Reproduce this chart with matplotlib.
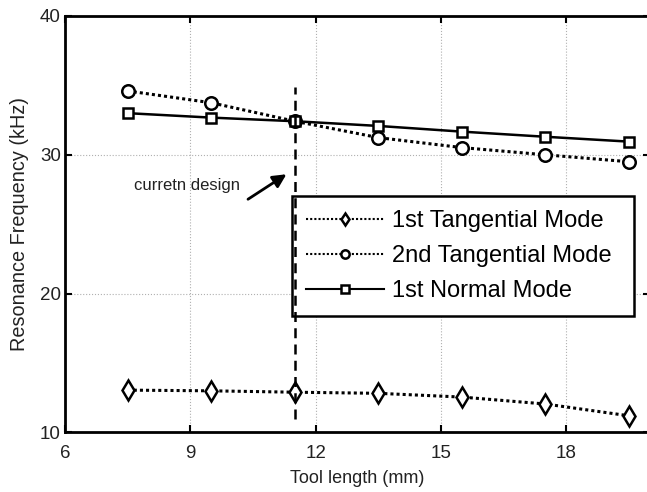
import numpy as np
import matplotlib
matplotlib.use('Agg')
import matplotlib.pyplot as plt

plt.rcParams['font.family'] = ['Liberation Sans', 'DejaVu Sans']

# tool length (mm)
tool_len = [7.5, 9.5, 11.5, 13.5, 15.5, 17.5, 19.5]
# resonance frequencies (kHz)
tang1 = [13.05, 13.0, 12.9, 12.82, 12.55, 12.05, 11.2]
tang2 = [34.6, 33.75, 32.42, 31.24, 30.52, 30.0, 29.5]
normal1 = [33.0, 32.68, 32.42, 32.08, 31.67, 31.3, 30.95]
labels = ['1st Tangential Mode', '2nd Tangential Mode', '1st Normal Mode']

design_x = 11.5
design_span = [11.0, 34.9]

fig = plt.figure(figsize=(6.47, 4.92), dpi=100)
ax = fig.add_axes([0.1005, 0.121, 0.904, 0.8465])

mk = dict(markerfacecolor='white', markeredgecolor='black', markeredgewidth=1.8, color='black')
l1, = ax.plot(tool_len, tang1, ls=(0, (1, 1)), lw=2.2, marker='d', ms=10, label=labels[0], **mk)
l2, = ax.plot(tool_len, tang2, ls=(0, (1, 1)), lw=2.2, marker='o', ms=9, label=labels[1], **mk)
l3, = ax.plot(tool_len, normal1, ls='-', lw=1.8, marker='s', ms=7.5, label=labels[2], **mk)

ax.plot([design_x, design_x], design_span, color='black', lw=1.8,
        ls=(0, (4, 2.5)), zorder=6)

# label + arrow for the current design
ax.text(10.19, 27.8, 'curretn design', fontsize=12, ha='right', va='center',
        color='#222222')
ax.annotate('', xy=(11.3, 28.6), xytext=(10.38, 26.8),
            arrowprops=dict(arrowstyle='-|>', color='black', lw=2,
                            mutation_scale=20, shrinkA=0, shrinkB=0))

ax.set_xlim(6, 20)
ax.set_ylim(10, 40)
ax.set_xticks([6, 9, 12, 15, 18])
ax.set_yticks([10, 20, 30, 40])
ax.grid(True, color='#b0b0b0', ls=':', lw=0.8)
ax.tick_params(direction='in', length=5, width=1.5, top=True, right=True,
               labelsize=13.5, colors='black', labelcolor='#222222')
ax.tick_params(axis='x', pad=9)
ax.tick_params(axis='y', pad=3)
for s in ax.spines.values():
    s.set_linewidth(2)

ax.set_xlabel('Tool length (mm)', fontsize=13, color='#222222', labelpad=6)
ax.set_ylabel('Resonance Frequency (kHz)', fontsize=14.3, color='#222222', labelpad=8)

leg = ax.legend(loc='upper left', bbox_to_anchor=(0.388, 0.292, 0.585, 0.276),
                mode='expand', fontsize=17, handlelength=3.3, numpoints=1,
                fancybox=False, framealpha=1, edgecolor='black',
                borderpad=0.6, labelspacing=0.55, handletextpad=0.35,
                borderaxespad=0)
leg.get_frame().set_linewidth(1.8)
for h in leg.legend_handles:
    h.set_markersize(6)
    h.set_linewidth(1.5)

fig.savefig('out.png', dpi=100)
